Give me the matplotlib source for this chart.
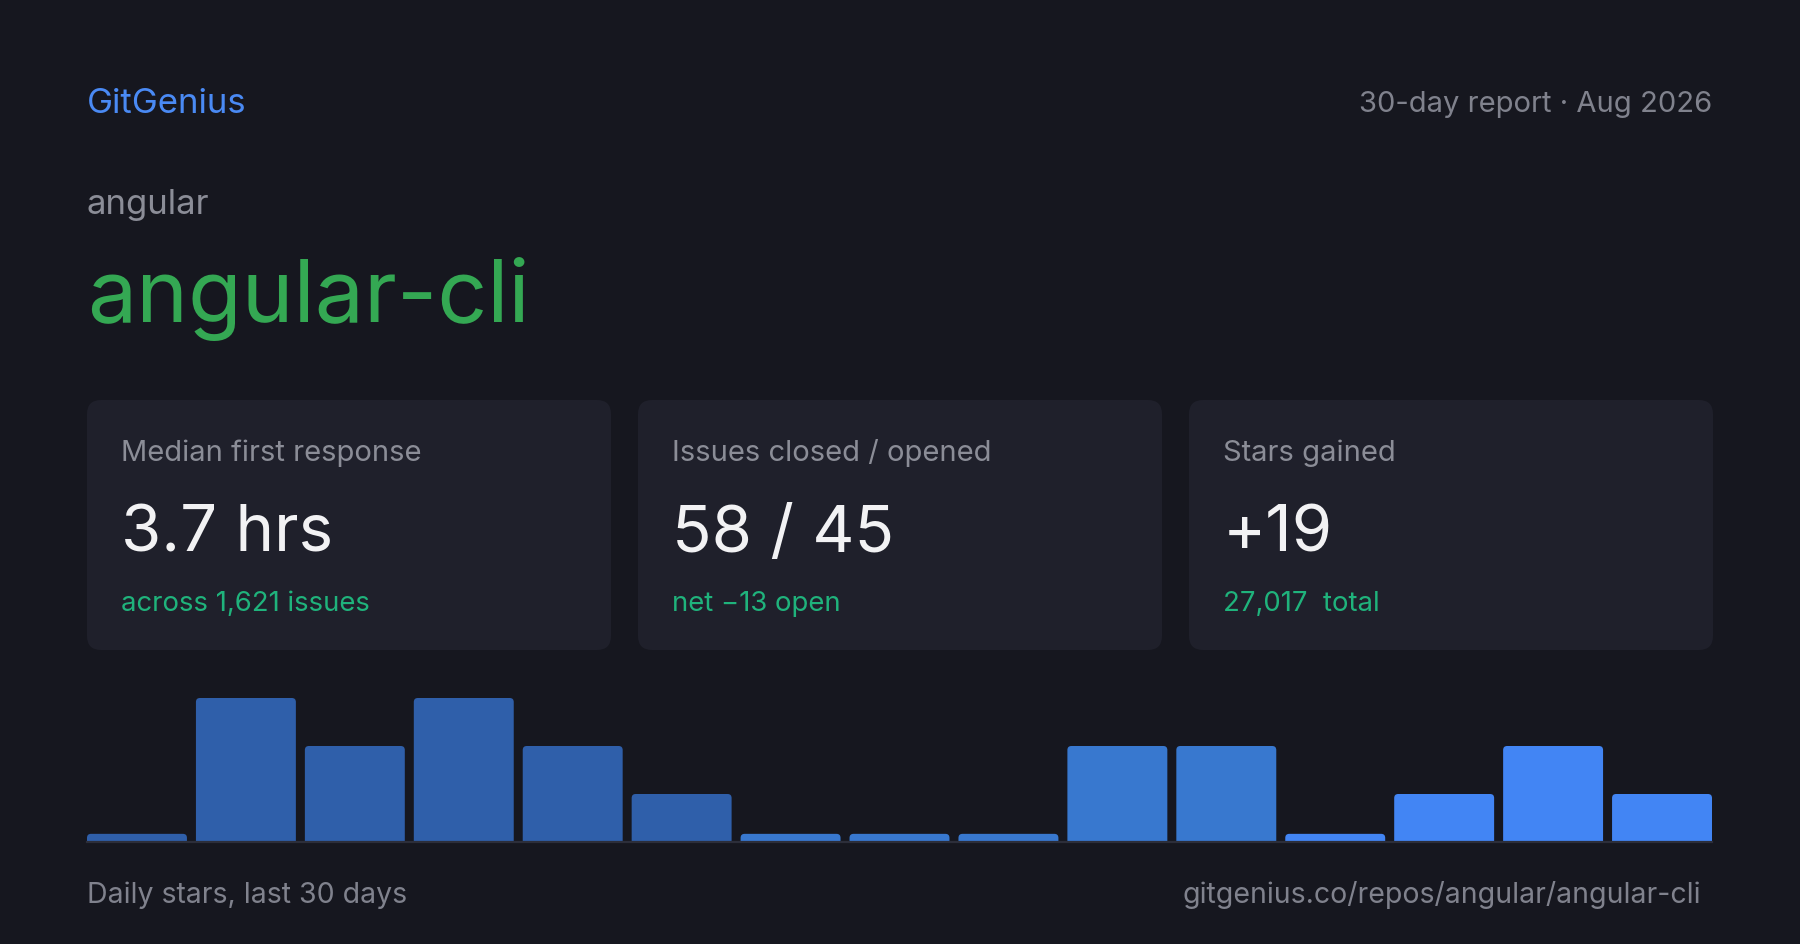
import matplotlib
matplotlib.use("Agg")
import matplotlib.pyplot as plt
from matplotlib.patches import FancyBboxPatch

plt.rcParams["font.family"] = ["Inter", "DejaVu Sans"]

# ---- data ----
brand = "GitGenius"
report_label = "30-day report · Aug 2026"
owner = "angular"
repo = "angular-cli"
card_titles = ["Median first response", "Issues closed / opened", "Stars gained"]
card_values = ["3.7 hrs", "58 / 45", "+19"]
card_notes = ["across 1,621 issues", "net \u221213 open", "27,017  total"]
daily_stars = [0, 3, 2, 3, 2, 1, 0, 0, 0, 2, 2, 0, 1, 2, 1]
bar_colors = ["#2f5faa"] * 6 + ["#3878cf"] * 5 + ["#4285f4"] * 4
footer_left = "Daily stars, last 30 days"
footer_right = "gitgenius.co/repos/angular/angular-cli"

# ---- colours ----
BG = "#16171f"
CARD = "#1f202b"
GREY = "#8b8d97"
WHITE = "#f2f2f4"
NOTE = "#1fb37c"

W, H = 1800, 945
fig = plt.figure(figsize=(W / 100, H / 100), dpi=100, facecolor=BG)

# background axes in pixel coordinates
bg = fig.add_axes([0, 0, 1, 1])
bg.set_xlim(0, W)
bg.set_ylim(H, 0)
bg.axis("off")

left, right = 87, 1712

bg.text(left, 113, brand, color="#4a8af4", fontsize=25)
bg.text(right, 112, report_label, color="#80828d", fontsize=21)
bg.texts[-1].set_ha("right")
bg.text(left, 214, owner, color=GREY, fontsize=25)
bg.text(left, 322, repo, color="#34a853", fontsize=63)

# stat cards
card_w, gap = 524, 27
for i in range(3):
    x0 = left + i * (card_w + gap)
    card = FancyBboxPatch((x0, 401), card_w, 250,
                          boxstyle="round,pad=0,rounding_size=14",
                          facecolor=CARD, edgecolor="none")
    bg.add_patch(card)
    bg.text(x0 + 34, 461, card_titles[i], color=GREY, fontsize=21)
    bg.text(x0 + 34, 552, card_values[i], color=WHITE, fontsize=47)
    bg.text(x0 + 34, 611, card_notes[i], color=NOTE, fontsize=19.8)

bg.text(left, 903, footer_left, color="#80828d", fontsize=20.5)
bg.text(1701, 903, footer_right, color="#80828d", fontsize=20.5, ha="right")

# bar chart of daily stars
base_y, top_y = 843, 699
ax = fig.add_axes([left / W, (H - base_y) / H, (right - left) / W, (base_y - top_y) / H])
ax.set_facecolor("none")
ax.axis("off")
step = 109.0
width = 100 / step
n = len(daily_stars)
ax.set_xlim(-width / 2, n - 1 + width / 2)
ax.set_ylim(0, max(daily_stars))

min_h = 0.17  # zero days still show a sliver
shown = [max(v, min_h) for v in daily_stars]
bars = ax.bar(range(n), shown, width=width, color=bar_colors)

# swap rectangles for rounded-top ones
px_x = (right - left) / (n - 1 + width)
px_y = (base_y - top_y) / max(daily_stars)
for b in bars:
    x, w, h = b.get_x(), b.get_width(), b.get_height()
    fc = b.get_facecolor()
    b.remove()
    p = FancyBboxPatch((x, -0.3), w, h + 0.3,
                       boxstyle="round,pad=0,rounding_size=%f" % (4 / px_x),
                       mutation_aspect=px_x / px_y,
                       facecolor=fc, edgecolor="none", clip_on=True)
    ax.add_patch(p)

ax.axhline(0, color="#2c2e3a", lw=1.6, clip_on=False)

fig.savefig("out.png", dpi=100, facecolor=BG)
